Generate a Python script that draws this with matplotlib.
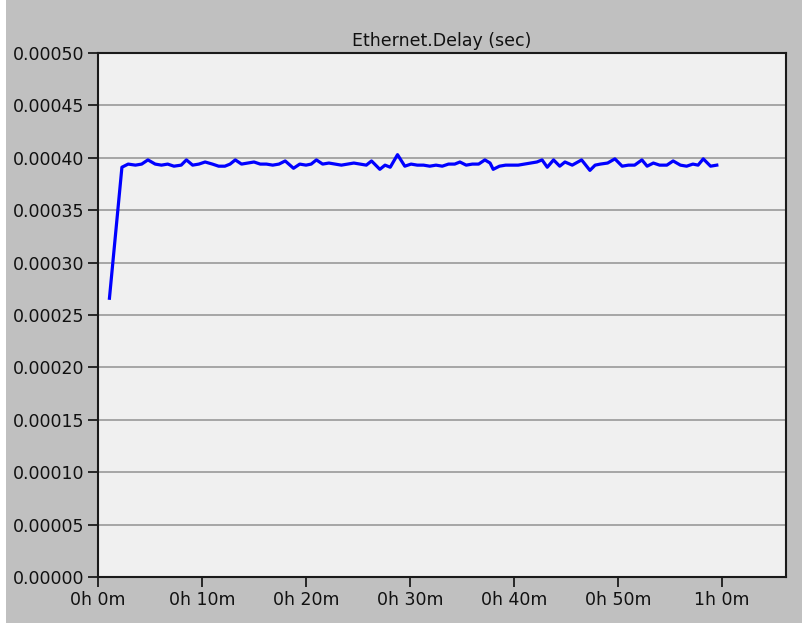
import matplotlib
matplotlib.use("Agg")
import matplotlib.pyplot as plt
from matplotlib.patches import Rectangle

# Data (time in minutes, delay in seconds)
time_min = [1.1, 2.3, 2.9, 3.6, 4.2, 4.8, 5.5, 6.1, 6.7, 7.3, 8.0, 8.5, 9.1, 9.7,
            10.3, 11.0, 11.6, 12.2, 12.7, 13.2, 13.8, 14.4, 15.0, 15.6, 16.2, 16.8,
            17.4, 18.0, 18.8, 19.4, 20.0, 20.5, 21.0, 21.6, 22.2, 22.8, 23.4, 24.0,
            24.6, 25.2, 25.8, 26.3, 27.1, 27.6, 28.1, 28.8, 29.5, 30.1, 30.7, 31.3,
            31.9, 32.5, 33.1, 33.7, 34.3, 34.8, 35.4, 36.0, 36.6, 37.2, 37.7, 38.0,
            38.6, 39.2, 39.8, 40.4, 41.0, 41.6, 42.2, 42.7, 43.2, 43.8, 44.4, 44.9,
            45.6, 46.5, 47.3, 47.8, 48.3, 49.0, 49.7, 50.4, 51.0, 51.6, 52.3, 52.8,
            53.4, 54.0, 54.7, 55.3, 56.0, 56.6, 57.2, 57.7, 58.2, 58.9, 59.5]
delay = [0.000266, 0.000391, 0.000394, 0.000393, 0.000394, 0.000398, 0.000394,
         0.000393, 0.000394, 0.000392, 0.000393, 0.000398, 0.000393, 0.000394,
         0.000396, 0.000394, 0.000392, 0.000392, 0.000394, 0.000398, 0.000394,
         0.000395, 0.000396, 0.000394, 0.000394, 0.000393, 0.000394, 0.000397,
         0.000390, 0.000394, 0.000393, 0.000394, 0.000398, 0.000394, 0.000395,
         0.000394, 0.000393, 0.000394, 0.000395, 0.000394, 0.000393, 0.000397,
         0.000389, 0.000393, 0.000391, 0.000403, 0.000392, 0.000394, 0.000393,
         0.000393, 0.000392, 0.000393, 0.000392, 0.000394, 0.000394, 0.000396,
         0.000393, 0.000394, 0.000394, 0.000398, 0.000395, 0.000389, 0.000392,
         0.000393, 0.000393, 0.000393, 0.000394, 0.000395, 0.000396, 0.000398,
         0.000391, 0.000398, 0.000392, 0.000396, 0.000393, 0.000398, 0.000388,
         0.000393, 0.000394, 0.000395, 0.000399, 0.000392, 0.000393, 0.000393,
         0.000398, 0.000392, 0.000395, 0.000393, 0.000393, 0.000397, 0.000393,
         0.000392, 0.000394, 0.000393, 0.000399, 0.000392, 0.000393]

x_ticks = [0, 10, 20, 30, 40, 50, 60]
x_tick_labels = ["0h 0m", "0h 10m", "0h 20m", "0h 30m", "0h 40m", "0h 50m", "1h 0m"]
y_ticks = [0.0, 0.00005, 0.0001, 0.00015, 0.0002, 0.00025, 0.0003, 0.00035,
           0.0004, 0.00045, 0.0005]
y_tick_labels = ["%.5f" % v for v in y_ticks]
title = "Ethernet.Delay (sec)"

W, H = 802, 626
fig = plt.figure(figsize=(W / 100, H / 100), dpi=100, facecolor="white")
bg = Rectangle((6 / W, 3 / H), 1 - 6 / W, 1 - 3 / H,
               transform=fig.transFigure, facecolor="#c0c0c0",
               edgecolor="none", zorder=-10)
fig.patches.append(bg)

ax = fig.add_axes([98 / W, 1 - 577 / H, (786 - 98) / W, (577 - 53) / H])
ax.set_zorder(5)
ax.set_facecolor("#f0f0f0")
ax.plot(time_min, delay, color="#0000ff", linewidth=2.3, zorder=3)

ax.set_xlim(0, (786 - 98) / 10.4)
ax.set_ylim(0, 0.0005)
ax.set_xticks(x_ticks)
ax.set_xticklabels(x_tick_labels)
ax.set_yticks(y_ticks)
ax.set_yticklabels(y_tick_labels)
ax.yaxis.grid(True, color="#a0a0a0", linewidth=1.3)
ax.set_axisbelow(True)
for s in ax.spines.values():
    s.set_color("#1a1a1a")
    s.set_linewidth(1.5)
ax.tick_params(axis="both", direction="out", length=7, width=1.3,
               color="#1a1a1a", labelsize=12.5, labelcolor="#111111", pad=3)
ax.set_title(title, fontsize=12.5, color="#111111", pad=5)

fig.savefig("out.png", dpi=100, facecolor=fig.get_facecolor())
